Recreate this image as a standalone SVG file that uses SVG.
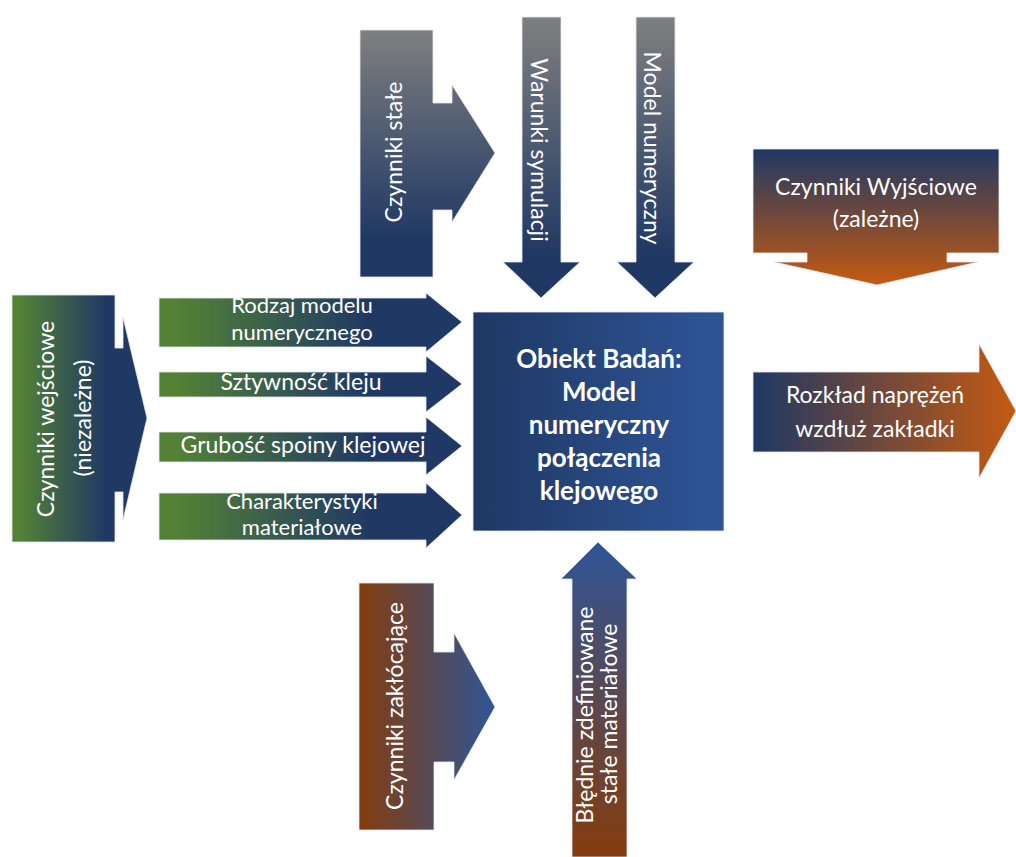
<svg xmlns="http://www.w3.org/2000/svg" width="1016" height="857" viewBox="0 0 1016 857">
<defs>
<linearGradient id="gGreyNavy" x1="0" y1="0" x2="0" y2="1"><stop offset="0" stop-color="#7f7f7f"/><stop offset="0.85" stop-color="#1f3864"/></linearGradient>
<linearGradient id="gGreenNavyH" x1="0" y1="0" x2="1" y2="0"><stop offset="0.05" stop-color="#548235"/><stop offset="0.7" stop-color="#1f3864"/></linearGradient>
<linearGradient id="gBox" x1="0" y1="0" x2="1" y2="0"><stop offset="0" stop-color="#1f3864"/><stop offset="1" stop-color="#2f5597"/></linearGradient>
<linearGradient id="gNavyOrangeV" x1="0" y1="0" x2="0" y2="1"><stop offset="0" stop-color="#1f3864"/><stop offset="1" stop-color="#c55a11"/></linearGradient>
<linearGradient id="gNavyOrangeH" x1="0" y1="0" x2="1" y2="0"><stop offset="0" stop-color="#1f3864"/><stop offset="1" stop-color="#c55a11"/></linearGradient>
<linearGradient id="gBrownBlueH" x1="0" y1="0" x2="1" y2="0"><stop offset="0" stop-color="#843c0c"/><stop offset="1" stop-color="#2f5597"/></linearGradient>
<linearGradient id="gBlueBrownV" x1="0" y1="0" x2="0" y2="1"><stop offset="0" stop-color="#2f5597"/><stop offset="1" stop-color="#843c0c"/></linearGradient>
</defs>
<style>
.t{font-family:Lato,"Liberation Sans",sans-serif;fill:#ffffff;font-size:23px;text-anchor:middle}
.s{font-size:22px}
.tb{font-family:Lato,"Liberation Sans",sans-serif;fill:#ffffff;font-size:26px;font-weight:bold;text-anchor:middle}
.edge{stroke:#e6e9f0;stroke-width:0.8}
</style>
<rect width="1016" height="857" fill="#ffffff"/>

<g id="node-czynniki-stale">
<path class="edge" d="M360,30 H433 V103 H452 V85 L495,153 L452,222 V210 H433 V277 H360 Z" fill="url(#gGreyNavy)"/>
<text class="t" transform="translate(402,152) rotate(-90)">Czynniki stałe</text>
</g>

<g id="node-warunki">
<path class="edge" d="M522,17 H561 V262 H580 L541,298 L503,262 H522 Z" fill="url(#gGreyNavy)"/>
<text class="t" transform="translate(531,150) rotate(90)">Warunki symulacji</text>
</g>

<g id="node-model">
<path class="edge" d="M636,17 H675 V262 H694 L655,298 L617,262 H636 Z" fill="url(#gGreyNavy)"/>
<text class="t" transform="translate(644,148) rotate(90)">Model numeryczny</text>
</g>

<g id="node-wyjsciowe">
<path class="edge" d="M753,149 H999 V253 H947 V262 H978 L877,285 L774,262 H807 V253 H753 Z" fill="url(#gNavyOrangeV)"/>
<text class="t" x="876" y="195">Czynniki Wyjściowe</text>
<text class="t" x="876" y="227">(zależne)</text>
</g>

<g id="node-rozklad">
<path class="edge" d="M753,372 H979 V344 L1016,411 L979,478 V452 H753 Z" fill="url(#gNavyOrangeH)"/>
<text class="t" x="875" y="403">Rozkład naprężeń</text>
<text class="t" x="875" y="437">wzdłuż zakładki</text>
</g>

<g id="node-wejsciowe">
<path class="edge" d="M12,295 H115 V348 H123 V317 L147,418 L123,520 V492 H115 V542 H12 Z" fill="url(#gGreenNavyH)"/>
<text class="t" transform="translate(54,419) rotate(-90)">Czynniki wejściowe</text>
<text class="t" transform="translate(91,418) rotate(-90)">(niezależne)</text>
</g>

<g id="node-rodzaj">
<path class="edge" d="M159,298 H426 V293 L462,322 L426,352 V347 H159 Z" fill="url(#gGreenNavyH)"/>
<text class="t s" x="302" y="313">Rodzaj modelu</text>
<text class="t s" x="302" y="340">numerycznego</text>
</g>

<g id="node-sztywnosc">
<path class="edge" d="M159,372 H426 V356 L462,384 L426,412 V397 H159 Z" fill="url(#gGreenNavyH)"/>
<text class="t" x="301" y="390">Sztywność kleju</text>
</g>

<g id="node-grubosc">
<path class="edge" d="M159,432 H426 V417 L462,446 L426,475 V462 H159 Z" fill="url(#gGreenNavyH)"/>
<text class="t" x="303" y="453">Grubość spoiny klejowej</text>
</g>

<g id="node-charakterystyki">
<path class="edge" d="M159,493 H426 V483 L462,515 L426,548 V540 H159 Z" fill="url(#gGreenNavyH)"/>
<text class="t s" x="302" y="509">Charakterystyki</text>
<text class="t s" x="302" y="535">materiałowe</text>
</g>

<g id="node-obiekt">
<rect class="edge" x="473" y="312" width="251" height="219" fill="url(#gBox)"/>
<text class="tb" x="599" y="368">Obiekt Badań:</text>
<text class="tb" x="599" y="401">Model</text>
<text class="tb" x="599" y="434">numeryczny</text>
<text class="tb" x="599" y="467">połączenia</text>
<text class="tb" x="599" y="500">klejowego</text>
</g>

<g id="node-zaklocajace">
<path class="edge" d="M359,583 H434 V652 H454 V633 L495,707 L454,780 V762 H434 V830 H359 Z" fill="url(#gBrownBlueH)"/>
<text class="t" transform="translate(403,706) rotate(-90)">Czynniki zakłócające</text>
</g>

<g id="node-bledne">
<path class="edge" d="M572,857 V579 H561 L598,542 L637,579 H627 V857 Z" fill="url(#gBlueBrownV)"/>
<text class="t" transform="translate(593,715) rotate(-90)">Błędnie zdefiniowane</text>
<text class="t" transform="translate(617,714) rotate(-90)">stałe materiałowe</text>
</g>

<g id="connectors"></g>
</svg>
